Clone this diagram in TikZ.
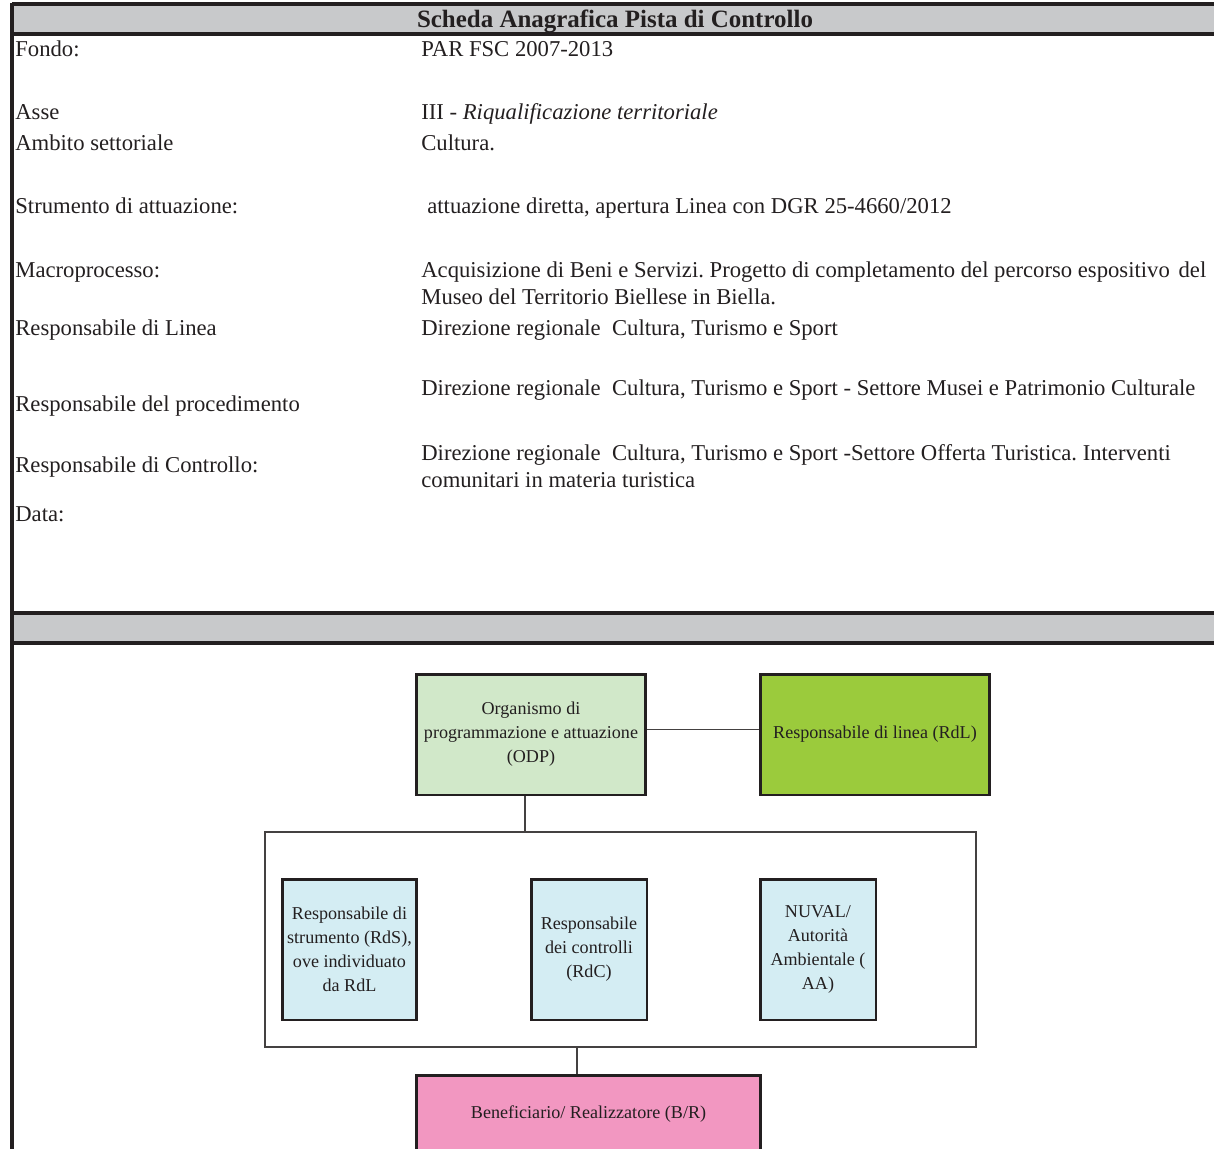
\documentclass[tikz,border=0pt]{standalone}
\usepackage{fontspec}
\setmainfont{Liberation Serif}
\usetikzlibrary{positioning}
\frenchspacing
\definecolor{ink}{HTML}{231F20}
\definecolor{bandgray}{HTML}{C8C9CB}
\definecolor{odpgreen}{HTML}{D1E8C9}
\definecolor{rdlgreen}{HTML}{9BCB3C}
\definecolor{ctrlblue}{HTML}{D4EDF3}
\definecolor{benpink}{HTML}{F297C1}
\tikzset{
	field/.style={anchor=base west, inner sep=0pt, text=ink, align=flush left,
		font=\fontsize{12.9}{15.9}\selectfont},
	band/.style={fill=bandgray, draw=none},
	rule/.style={draw=ink, line width=1.8pt},
	box/.style={draw=ink, line width=1.7pt, text=ink, align=center, inner sep=2pt,
		font=\fontsize{10.3}{13.6}\selectfont},
	link/.style={draw=ink!85, line width=0.8pt}
}
\begin{document}
\begin{tikzpicture}[x=0.02cm, y=-0.02cm]
	\useasboundingbox (0,0) rectangle (1214,1149);
	% grey bands of the form
	\fill[band] (12,4) rectangle (1214,34);
	\draw[rule] (12,4) -- (1214,4);
	\draw[rule] (12,34) -- (1214,34);
	\fill[band] (12,613) rectangle (1214,643);
	\draw[rule] (12,613) -- (1214,613);
	\draw[rule] (12,643) -- (1214,643);
	\draw[rule] (12,3) -- (12,1160);
	\node[anchor=base, inner sep=0pt, text=ink, font=\fontsize{14.2}{17}\selectfont\bfseries]
		(title) at (615,28) {Scheda Anagrafica Pista di Controllo};
	
	% form fields
	\node[field] (fondo) at (15,57) {Fondo:};
	\node[field] (fondov) at (421,57) {PAR FSC 2007-2013};
	\node[field] (asse) at (15,120) {Asse};
	\node[field] (assev) at (421,120) {III - \textit{Riqualificazione territoriale}};
	\node[field] (ambito) at (15,151) {Ambito settoriale};
	\node[field] (ambitov) at (421,151) {Cultura.};
	\node[field] (strum) at (15,214) {Strumento di attuazione:};
	\node[field] (strumv) at (427,214) {attuazione diretta, apertura Linea con DGR 25-4660/2012};
	\node[field] (macro) at (15,277) {Macroprocesso:};
	\node[field, text width=840*0.02cm] (macrov) at (421,277)
		{Acquisizione di Beni e Servizi. Progetto di completamento del percorso espositivo\hspace{5pt}del\\
		Museo del Territorio Biellese in Biella.};
	\node[field] (rlinea) at (15,335) {Responsabile di Linea};
	\node[field] (rlineav) at (421,335) {Direzione regionale\ \ Cultura, Turismo e Sport};
	\node[field] (rproc) at (15,411) {Responsabile del procedimento};
	\node[field] (rprocv) at (421,395) {Direzione regionale\ \ Cultura, Turismo e Sport - Settore Musei e Patrimonio Culturale};
	\node[field] (rctrl) at (15,472) {Responsabile di Controllo:};
	\node[field, text width=840*0.02cm] (rctrlv) at (421,460)
		{Direzione regionale\ \ Cultura, Turismo e Sport -Settore Offerta Turistica. Interventi\\
		comunitari in materia turistica};
	\node[field] (data) at (15,521) {Data:};
	
	% organisation chart
	\node[box, fill=odpgreen, minimum width=4.6cm, minimum height=2.42cm] (odp) at (531,734.5)
		{Organismo di\\programmazione e attuazione\\(ODP)};
	\node[box, fill=rdlgreen, minimum width=4.6cm, minimum height=2.42cm] (rdl) at (875,734.5)
		{Responsabile di linea (RdL)};
	\node[draw=ink!85, line width=0.8pt, minimum width=14.22cm, minimum height=4.3cm] (grp) at (620.5,939.5) {};
	\node[box, fill=ctrlblue, minimum width=2.7cm, minimum height=2.82cm] (rds) at (349.5,949.5)
		{Responsabile di\\strumento (RdS),\\ove individuato\\da RdL};
	\node[box, fill=ctrlblue, minimum width=2.32cm, minimum height=2.82cm] (rdc) at (589,949.5)
		{Responsabile\\dei controlli\\(RdC)};
	\node[box, fill=ctrlblue, minimum width=2.32cm, minimum height=2.82cm] (nuval) at (818,949.5)
		{NUVAL/\\Autorità\\Ambientale (\\AA)};
	\node[box, fill=benpink, minimum width=6.9cm, minimum height=1.56cm] (ben) at (588.5,1114)
		{Beneficiario/ Realizzatore (B/R)};
	
	\draw[link] ([yshift=0.1cm]odp.east) -- ([yshift=0.1cm]rdl.west);
	\draw[link] ([xshift=-0.12cm]odp.south) -- ([xshift=-0.12cm]odp.south |- grp.north);
	\draw[link] ([xshift=-0.23cm]grp.south -| ben.north) -- ([xshift=-0.23cm]ben.north);
\end{tikzpicture}
\end{document}
